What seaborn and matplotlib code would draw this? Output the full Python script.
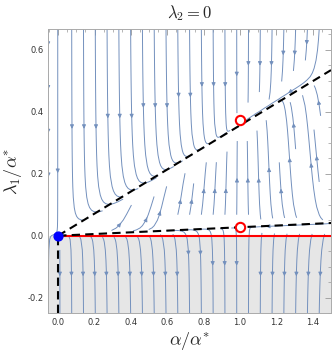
import numpy as np
import matplotlib
matplotlib.use("Agg")
import matplotlib.pyplot as plt
import seaborn as sns
from matplotlib.ticker import MultipleLocator

# ---- data ----
fixed_x = [1.0, 1.0]            # red open circles
fixed_y = [0.375, 0.028]
origin_x = [0.0]                # blue dot
origin_y = [0.0]
upper_line_x = [0.0, 1.5]       # black dashed lines
upper_line_y = [0.0, 0.535]
lower_line_x = [0.0, 1.5]
lower_line_y = [0.0, 0.041]
red_line_x = [0.0, 1.5]
red_line_y = [0.0, 0.0]
vert_line_x = [0.0, 0.0]
vert_line_y = [0.0, -0.25]
k_upper = 0.36                  # slopes of the nullclines in the field
k_lower = 0.027

xlim = (-0.055, 1.5)
ylim = (-0.25, 0.668)
xticks = [0.0, 0.2, 0.4, 0.6, 0.8, 1.0, 1.2, 1.4]
yticks = [-0.2, 0.0, 0.2, 0.4, 0.6]

sns.set_theme(style="white")
plt.rcParams["mathtext.fontset"] = "cm"
plt.rcParams["font.family"] = ["DejaVu Sans"]

fig = plt.figure(figsize=(3.32, 3.57), dpi=100)
ax = fig.add_axes([0.145, 0.123, 0.852, 0.796])

# gray region below zero
ax.axhspan(ylim[0], 0.0, color="#e6e6e6", zorder=0, lw=0)

# vector field
gx = np.linspace(xlim[0], xlim[1], 200)
gy = np.linspace(ylim[0], ylim[1], 200)
X, Y = np.meshgrid(gx, gy)
U = 0.015 * X * (1.0 - X)
V = -(Y - k_upper * X) * (Y - k_lower * X) + 0.3 * np.minimum(Y, 0.0)
ax.streamplot(X, Y, U, V, density=(0.85, 0.9), color="#7390bd",
              linewidth=0.7, arrowsize=0.55, arrowstyle="-|>", zorder=1)

# lines
sns.lineplot(x=red_line_x, y=red_line_y, ax=ax, color="red", lw=1.5, zorder=3)
sns.lineplot(x=upper_line_x, y=upper_line_y, ax=ax, color="black", lw=1.5,
             linestyle=(0, (4, 2.5)), zorder=4)
sns.lineplot(x=lower_line_x, y=lower_line_y, ax=ax, color="black", lw=1.5,
             linestyle=(0, (4, 2.5)), zorder=4)
sns.lineplot(x=vert_line_x, y=vert_line_y, ax=ax, color="black", lw=1.5,
             linestyle=(0, (4, 2.5)), zorder=4, orient="y")

ax.scatter(fixed_x, fixed_y, s=45, facecolors="white", edgecolors="red",
           linewidths=1.5, zorder=5)
ax.scatter(origin_x, origin_y, s=40, color="#0000ff", zorder=6, clip_on=False)

ax.set_xlim(*xlim)
ax.set_ylim(*ylim)
ax.set_xticks(xticks)
ax.set_yticks(yticks)
ax.xaxis.set_minor_locator(MultipleLocator(0.05))
ax.yaxis.set_minor_locator(MultipleLocator(0.05))
ax.set_xticklabels([f"{t:.1f}" for t in xticks])
ax.set_yticklabels([f"{t:.1f}" for t in yticks])
ax.tick_params(which="both", direction="in", top=True, right=True,
               colors="#999999", labelcolor="#333333", labelsize=6)
ax.tick_params(which="major", length=4, width=0.6)
ax.tick_params(which="minor", length=2, width=0.5)
for s in ax.spines.values():
    s.set_color("#aaaaaa")
    s.set_linewidth(0.7)

ax.set_title(r"$\lambda_2=0$", fontsize=12, pad=8)
ax.set_xlabel(r"$\alpha/\alpha^{*}$", fontsize=13, labelpad=2)
ax.set_ylabel(r"$\lambda_1/\alpha^{*}$", fontsize=13, labelpad=2)

fig.savefig("out.png", dpi=100)
